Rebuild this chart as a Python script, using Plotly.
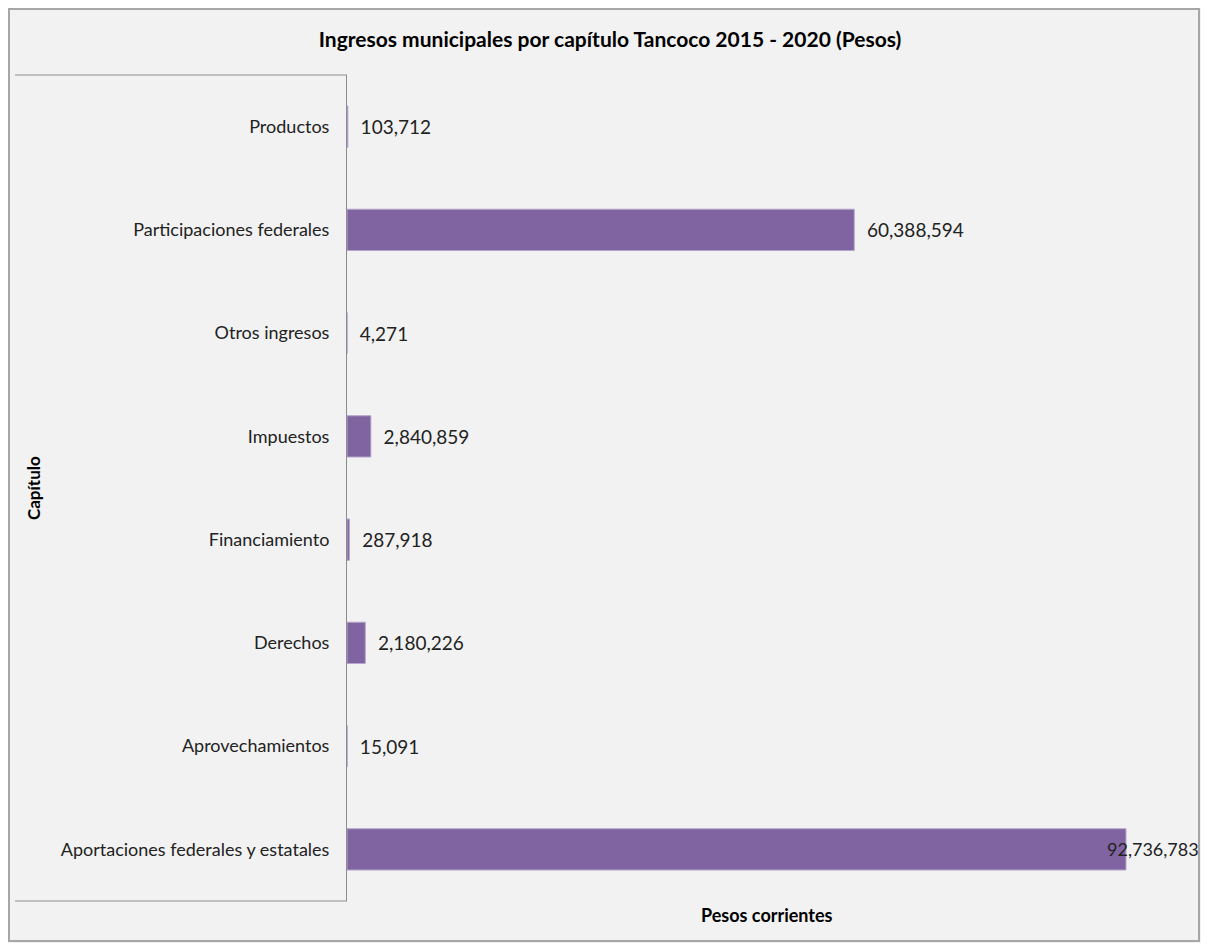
import plotly.graph_objects as go

categories = [
    "Productos",
    "Participaciones federales",
    "Otros ingresos",
    "Impuestos",
    "Financiamiento",
    "Derechos",
    "Aprovechamientos",
    "Aportaciones federales y estatales",
]
values = [103712, 60388594, 4271, 2840859, 287918, 2180226, 15091, 92736783]

# The page has an 8px body margin, so layout is designed in figure pixels
W, H = 1193, 935
L, R, T, B = 339, 1179, 67, 893  # plot area in figure px

def px_x(p):
    return (p - L) / (R - L)

def px_y(p):
    return (B - p) / (B - T)

FONT = "Lato"
TICK = 18
LBL = 19
last = len(values) - 1
bar_text = ["  " + f"{v:,}" if i != last else "" for i, v in enumerate(values)]

fig = go.Figure(
    go.Bar(
        y=categories,
        x=values,
        orientation="h",
        width=0.4,
        marker=dict(color="#8064A2", line=dict(color="#B7A6CC", width=1)),
        text=bar_text,
        textposition="outside",
        constraintext="none",
        cliponaxis=False,
        textfont=dict(family=FONT, size=LBL, color="#222222"),
        hoverinfo="x+y",
    )
)

frame_color = "#A6A6A6"
axis_color = "#8C8C8C"
fig.update_layout(
    width=W,
    height=H,
    paper_bgcolor="#F2F2F2",
    plot_bgcolor="#F2F2F2",
    margin=dict(l=L, r=W - R, t=T, b=H - B, autoexpand=False),
    font=dict(family=FONT, size=TICK, color="#222222"),
    showlegend=False,
    title=dict(
        text="<b>Ingresos municipales por capítulo Tancoco 2015 - 2020 (Pesos)</b>",
        x=(610 - 8) / W,
        xref="container",
        xanchor="center",
        y=1 - 32 / H,
        yref="container",
        yanchor="middle",
        font=dict(family=FONT, size=21, color="#000000"),
    ),
    xaxis=dict(
        range=[0, 100000000],
        showticklabels=False,
        showgrid=False,
        zeroline=False,
        showline=False,
        ticks="",
        fixedrange=True,
    ),
    yaxis=dict(
        categoryorder="array",
        categoryarray=categories,
        autorange="reversed",
        showgrid=False,
        zeroline=False,
        showline=True,
        linecolor=axis_color,
        linewidth=1,
        ticks="",
        ticklabelstandoff=13,
        tickfont=dict(family=FONT, size=TICK, color="#222222"),
    ),
    shapes=[
        dict(type="rect", xref="paper", yref="paper",
             x0=px_x(1), x1=px_x(W - 2), y0=px_y(H - 2), y1=px_y(1),
             line=dict(color=frame_color, width=2), layer="below"),
        dict(type="line", xref="paper", yref="paper",
             x0=px_x(7), x1=0, y0=1, y1=1,
             line=dict(color=axis_color, width=1)),
        dict(type="line", xref="paper", yref="paper",
             x0=px_x(7), x1=0, y0=0, y1=0,
             line=dict(color=axis_color, width=1)),
    ],
    annotations=[
        dict(text=f"{values[last]:,}", x=values[last], y=categories[last],
             xref="x", yref="y", xanchor="right", yanchor="middle",
             xshift=75, showarrow=False,
             font=dict(family=FONT, size=18, color="#222222")),
        dict(text="<b>Pesos corrientes</b>", xref="paper", yref="paper",
             x=0.5, y=px_y(907), xanchor="center", yanchor="middle",
             showarrow=False, font=dict(family=FONT, size=18, color="#000000")),
        dict(text="<b>Capítulo</b>", xref="paper", yref="paper",
             x=px_x(25), y=px_y(480), xanchor="center", yanchor="middle",
             textangle=-90, showarrow=False,
             font=dict(family=FONT, size=17, color="#000000")),
    ],
)

fig.write_html("out.html")
